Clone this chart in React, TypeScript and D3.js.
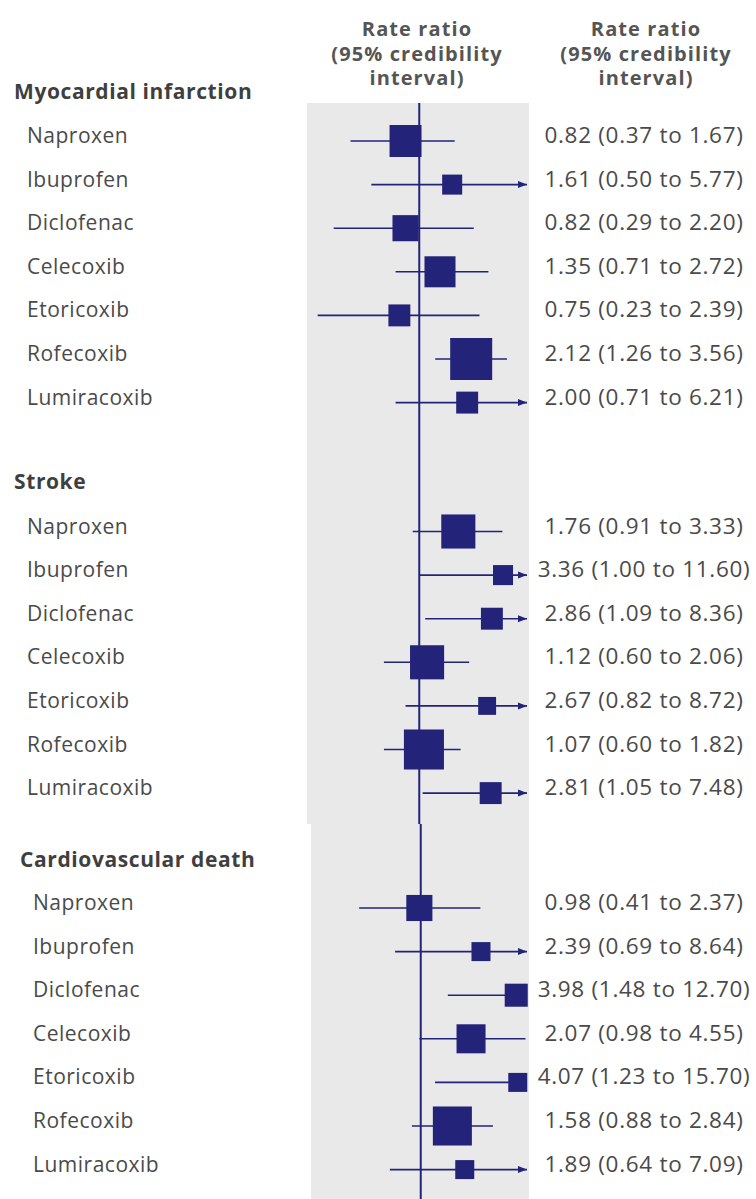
import { scaleLinear, scaleLog, scaleSqrt } from "d3"

const drugs = ["Naproxen", "Ibuprofen", "Diclofenac", "Celecoxib", "Etoricoxib", "Rofecoxib", "Lumiracoxib"]
const outcomes = ["Myocardial infarction", "Stroke", "Cardiovascular death"]

const miEstimate = [0.82, 1.61, 0.82, 1.35, 0.75, 2.12, 2.0]
const miLower = [0.37, 0.5, 0.29, 0.71, 0.23, 1.26, 0.71]
const miUpper = [1.67, 5.77, 2.2, 2.72, 2.39, 3.56, 6.21]
const miWeight = [10.2, 4.0, 6.8, 9.6, 4.8, 17.6, 4.8]

const strokeEstimate = [1.76, 3.36, 2.86, 1.12, 2.67, 1.07, 2.81]
const strokeLower = [0.91, 1.0, 1.09, 0.6, 0.82, 0.6, 1.05]
const strokeUpper = [3.33, 11.6, 8.36, 2.06, 8.72, 1.82, 7.48]
const strokeWeight = [11.6, 4.0, 4.8, 11.6, 3.2, 16.0, 4.8]

const cvEstimate = [0.98, 2.39, 3.98, 2.07, 4.07, 1.58, 1.89]
const cvLower = [0.41, 0.69, 1.48, 0.98, 1.23, 0.88, 0.64]
const cvUpper = [2.37, 8.64, 12.7, 4.55, 15.7, 2.84, 7.09]
const cvWeight = [6.8, 3.6, 5.3, 8.4, 3.6, 15.2, 3.6]

const columnTitle = ["Rate ratio", "(95% credibility", "interval)"]

const navy = "#23237a"
const panelFill = "#e9e9e9"
const textColor = "#4a4a4a"
const font = "'Open Sans', 'Noto Sans', sans-serif"

// layout of each block (the third block is a slightly shifted pasted piece in the original)
const blocks = [
  { headerY: 99, firstRow: 141, dx: 0, textDx: 0 },
  { headerY: 489, firstRow: 531.5, dx: 0, textDx: 0 },
  { headerY: 867, firstRow: 908, dx: 1.5, textDx: 6 },
]
const rowStep = 43.6

export default function App() {
  const width = 756
  const height = 1199
  const panelLeft = 307
  const panelRight = 529
  const panelTop = 103
  const panelBreak = 824
  const valueX = 644
  const arrowTip = panelRight - 2

  const x = scaleLog().domain([0.2, 5]).range([308, 530.5])
  const size = scaleSqrt().domain([0, 17.6]).range([0, 42])
  const rowY = scaleLinear().domain([0, 1]).range([0, rowStep])

  const data = [
    { est: miEstimate, lo: miLower, hi: miUpper, w: miWeight },
    { est: strokeEstimate, lo: strokeLower, hi: strokeUpper, w: strokeWeight },
    { est: cvEstimate, lo: cvLower, hi: cvUpper, w: cvWeight },
  ]
  const fmt = (v: number) => v.toFixed(2)

  return (
    <svg width={width} height={height} style={{ position: "absolute", left: 0, top: 0, background: "#fff" }} fontFamily={font}>
      <rect x={panelLeft} y={panelTop} width={panelRight - panelLeft} height={panelBreak - panelTop} fill={panelFill} />
      <rect x={panelLeft + 4} y={panelBreak} width={panelRight - panelLeft - 4} height={height - panelBreak} fill={panelFill} />
      <line x1={x(1)} x2={x(1)} y1={panelTop} y2={panelBreak} stroke={navy} strokeWidth={2} />
      <line x1={x(1) + 1.5} x2={x(1) + 1.5} y1={panelBreak} y2={height} stroke={navy} strokeWidth={2} />

      {columnTitle.map((t, i) => (
        <g key={t} fontWeight="bold" fontSize={20} fill="#555" textAnchor="middle" letterSpacing={1.1}>
          <text x={417} y={36 + i * 24.5}>{t}</text>
          <text x={646} y={36 + i * 24.5}>{t}</text>
        </g>
      ))}

      {outcomes.map((outcome, s) => {
        const b = blocks[s]
        const d = data[s]
        return (
          <g key={outcome}>
            <text x={14 + b.textDx} y={b.headerY} fontSize={21} fontWeight="bold" fill="#3f3f3f" letterSpacing={0.6}>{outcome}</text>
            {drugs.map((drug, i) => {
              const y = b.firstRow + rowY(i)
              const side = size(d.w[i])
              const cx = x(d.est[i]) + b.dx
              const clipped = d.hi[i] > 5
              const right = clipped ? arrowTip : x(d.hi[i]) + b.dx
              return (
                <g key={drug}>
                  <text x={27 + b.textDx} y={y + 2} fontSize={21} fill={textColor} letterSpacing={0.5}>{drug}</text>
                  <line x1={x(d.lo[i]) + b.dx} x2={right} y1={y} y2={y} stroke={navy} strokeWidth={1.6} />
                  {clipped && (
                    <path d={`M${arrowTip},${y}L${arrowTip - 9},${y - 3.5}L${arrowTip - 9},${y + 3.5}Z`} fill={navy} />
                  )}
                  <rect x={cx - side / 2} y={y - side / 2} width={side} height={side} fill={navy} />
                  <text x={valueX} y={y + 2} fontSize={22.5} fill={textColor} textAnchor="middle" letterSpacing={0.7}>
                    {`${fmt(d.est[i])} (${fmt(d.lo[i])} to ${fmt(d.hi[i])})`}
                  </text>
                </g>
              )
            })}
          </g>
        )
      })}
    </svg>
  )
}
